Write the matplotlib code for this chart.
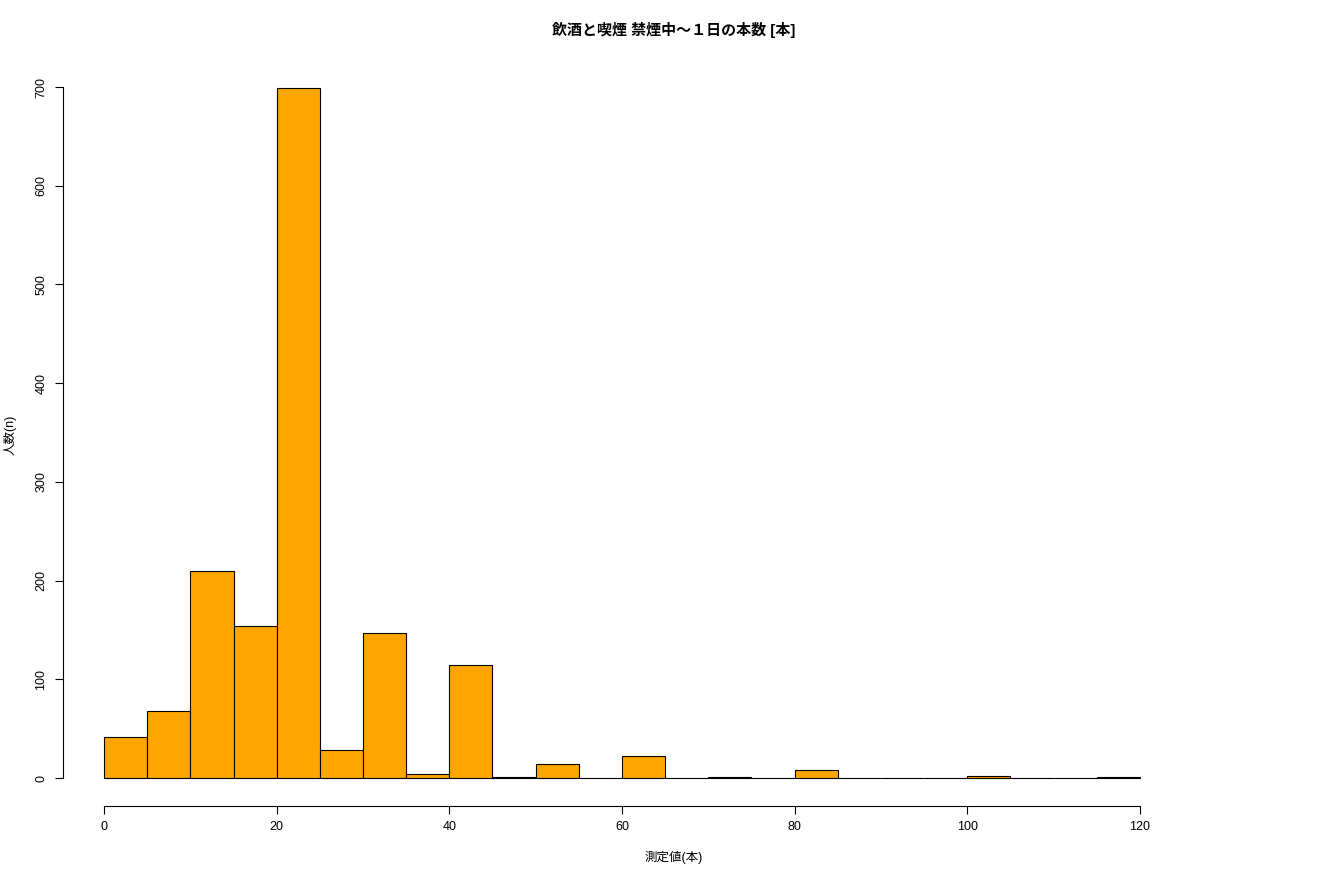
import numpy as np
import matplotlib
matplotlib.use('Agg')
import matplotlib.pyplot as plt

plt.rcParams['font.family'] = ['Liberation Sans', 'Noto Sans CJK JP', 'DejaVu Sans']

# histogram bins (width 5) and counts
bin_edges = list(range(0, 125, 5))
counts = [42, 68, 210, 154, 699, 28, 147, 4, 115, 1, 14, 0,
          22, 0, 1, 0, 8, 0, 0, 0, 2, 0, 0, 1]
title = '飲酒と喫煙 禁煙中〜１日の本数 [本]'
xlabel = '測定値(本)'
ylabel = '人数(n)'

fig = plt.figure(figsize=(13.2, 8.8), dpi=100)
ax = fig.add_axes([0.0474, 0.0845, 0.8476, 0.8468])

lefts = np.array(bin_edges[:-1])
ax.bar(lefts, counts, width=5, align='edge', color='#FFA500',
       edgecolor='black', linewidth=0.8)

ax.set_xlim(-4.8, 124.8)
ax.set_ylim(-27.96, 726.96)

for s in ['top', 'right']:
    ax.spines[s].set_visible(False)
ax.spines['left'].set_bounds(0, 700)
ax.spines['bottom'].set_bounds(0, 120)
ax.spines['left'].set_linewidth(0.8)
ax.spines['bottom'].set_linewidth(0.8)

ax.set_xticks(range(0, 121, 20))
ax.set_yticks(range(0, 701, 100))
ax.tick_params(axis='both', length=6, width=0.8, labelsize=9, pad=5)
for lbl in ax.get_yticklabels():
    lbl.set_rotation(90)
    lbl.set_va('center')

fig.text(0.5106, 0.966, title, ha='center', va='center', fontsize=10.8, fontweight='bold')
fig.text(0.5106, 0.026, xlabel, ha='center', va='center', fontsize=9)
fig.text(0.008, 0.506, ylabel, ha='center', va='center', fontsize=9, rotation=90)

fig.savefig('out.png', dpi=100)
